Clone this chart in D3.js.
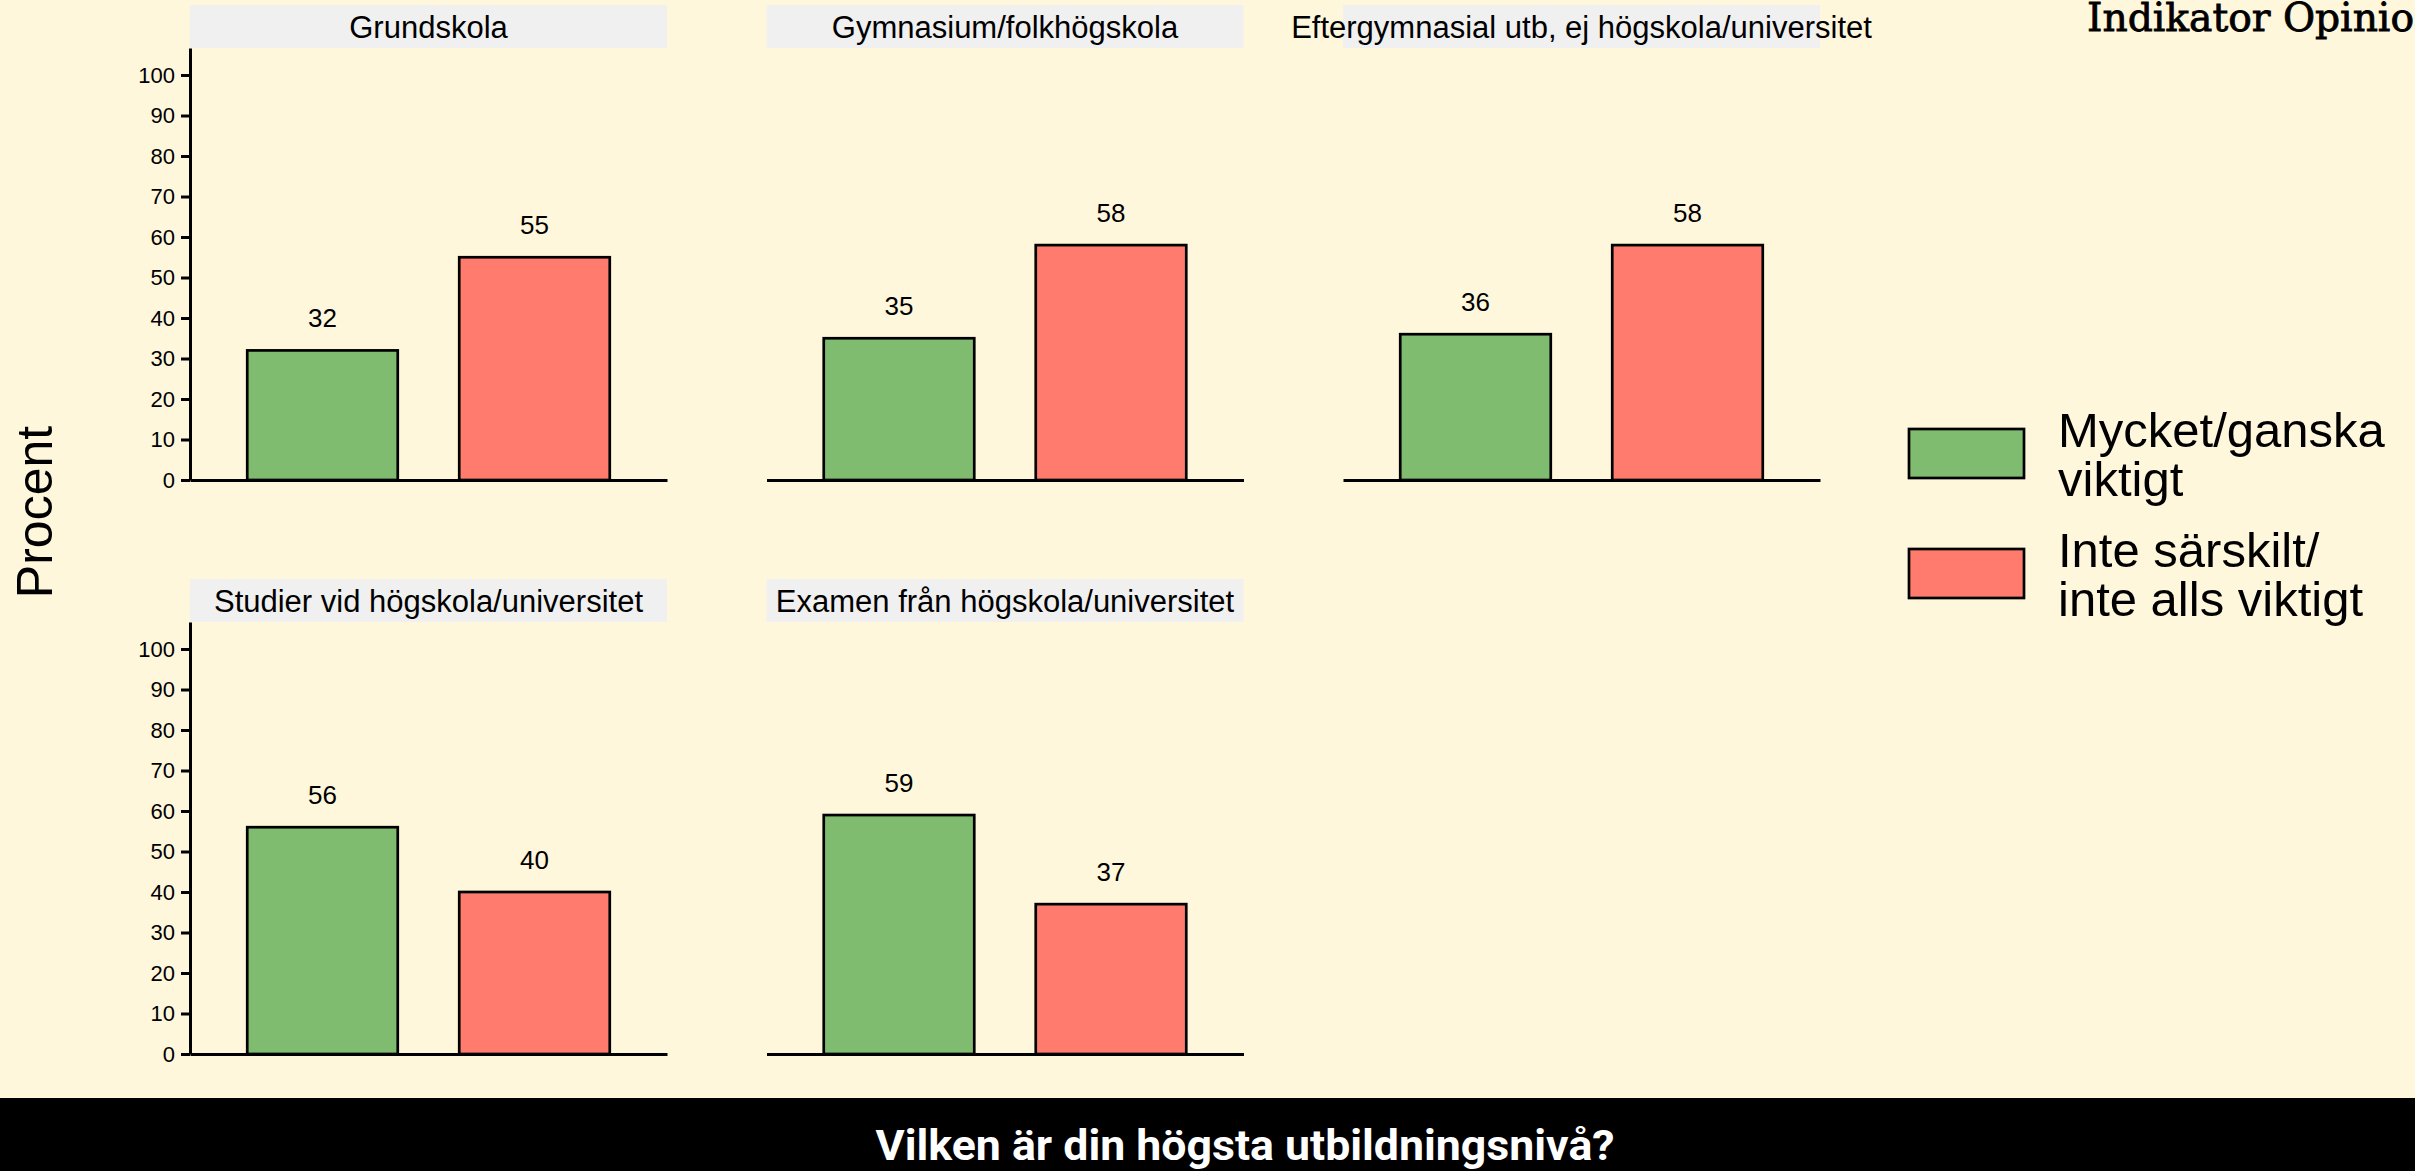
<!DOCTYPE html>
<html>
<head>
<meta charset="utf-8">
<script src="https://cdn.jsdelivr.net/npm/d3@7"></script>
<style>
	html, body { margin: 0; padding: 0; background: #FFF7DC; }
	svg { display: block; }
	text { font-family: 'Liberation Sans', Arial, sans-serif; }
</style>
</head>
<body>
<script>
'use strict';

// Data
const panelNames = [
	'Grundskola',
	'Gymnasium/folkhögskola',
	'Eftergymnasial utb, ej högskola/universitet',
	'Studier vid högskola/universitet',
	'Examen från högskola/universitet'
];
const seriesNames = ['Mycket/ganska viktigt', 'Inte särskilt/inte alls viktigt'];
const legendLines = [['Mycket/ganska', 'viktigt'], ['Inte särskilt/', 'inte alls viktigt']];
const viktigt = [32, 35, 36, 56, 59];
const inteViktigt = [55, 58, 58, 40, 37];
const yTicks = [0, 10, 20, 30, 40, 50, 60, 70, 80, 90, 100];
const seriesColors = ['#7FBC6F', '#FF7B6E'];

const WIDTH = 2415, HEIGHT = 1171;
const LAYOUT = {
	'colLeft' : [190, 766.5, 1343],
	'rowTop'  : [48, 622],
	'panelW'  : 477,
	'panelH'  : 432,
	'stripH'  : 43
};

let svg = d3.select('body').append('svg')
	.attr('width', WIDTH)
	.attr('height', HEIGHT);

svg.append('rect').attr('width', WIDTH).attr('height', HEIGHT).attr('fill', '#FFF7DC');

let x = d3.scaleBand()
	.domain(seriesNames)
	.range([0, LAYOUT.panelW])
	.paddingInner(0.29)
	.paddingOuter(0.27);
let y = d3.scaleLinear()
	.domain([0, 106.67])
	.range([LAYOUT.panelH, 0]);
let color = d3.scaleOrdinal().domain(seriesNames).range(seriesColors);

panelNames.forEach((name, i) => {
	let col = i % 3, row = Math.floor(i / 3);
	let values = [viktigt[i], inteViktigt[i]];
	let g = svg.append('g')
		.attr('transform', 'translate(' + LAYOUT.colLeft[col] + ', ' + LAYOUT.rowTop[row] + ')');

	// strip
	g.append('rect')
		.attr('x', 0).attr('y', -LAYOUT.stripH)
		.attr('width', LAYOUT.panelW).attr('height', LAYOUT.stripH)
		.attr('fill', '#F0F0F0');
	g.append('text')
		.attr('x', LAYOUT.panelW / 2).attr('y', -LAYOUT.stripH / 2)
		.attr('dy', '0.36em')
		.attr('text-anchor', 'middle')
		.style('font-size', '31px')
		.text(name);

	// bars
	g.selectAll('.bar')
		.data(values)
		.enter()
		.append('rect')
		.attr('class', 'bar')
		.attr('x', (d, j) => x(seriesNames[j]))
		.attr('y', (d) => y(d))
		.attr('width', x.bandwidth())
		.attr('height', (d) => y(0) - y(d))
		.attr('fill', (d, j) => color(seriesNames[j]))
		.attr('stroke', '#000')
		.attr('stroke-width', 2.7);

	g.selectAll('.lbl')
		.data(values)
		.enter()
		.append('text')
		.attr('class', 'lbl')
		.attr('x', (d, j) => x(seriesNames[j]) + x.bandwidth() / 2)
		.attr('y', (d) => y(d) - 23)
		.attr('text-anchor', 'middle')
		.style('font-size', '26px')
		.text((d) => d);

	// x axis line only
	let xAxis = g.append('g')
		.attr('transform', 'translate(0, ' + LAYOUT.panelH + ')')
		.call(d3.axisBottom(x).tickSize(0).tickFormat(''));
	xAxis.select('.domain').attr('stroke-width', 3);

	// y axis only on the first column
	if (col === 0) {
		let yAxis = g.append('g')
			.call(d3.axisLeft(y).tickValues(yTicks).tickSize(9).tickSizeOuter(0).tickPadding(6));
		yAxis.select('.domain').attr('stroke-width', 3);
		yAxis.selectAll('.tick line').attr('stroke-width', 3);
		yAxis.selectAll('.tick text')
			.style('font-size', '22px')
			.style('font-family', "'Liberation Sans', Arial, sans-serif")
			.attr('fill', '#000');
	}
});

// y axis title
svg.append('text')
	.attr('transform', 'translate(52, 512) rotate(-90)')
	.attr('text-anchor', 'middle')
	.style('font-size', '50px')
	.text('Procent');

// legend
let legend = svg.append('g').attr('transform', 'translate(1909, 429)');
seriesNames.forEach((s, i) => {
	let item = legend.append('g').attr('transform', 'translate(0, ' + i * 120 + ')');
	item.append('rect')
		.attr('width', 115).attr('height', 49)
		.attr('fill', color(s))
		.attr('stroke', '#000')
		.attr('stroke-width', 2.7);
	item.selectAll('text')
		.data(legendLines[i])
		.enter()
		.append('text')
		.attr('x', 149)
		.attr('y', (d, k) => 18 + k * 49)
		.style('font-size', '49px')
		.text((d) => d);
});

// brand
svg.append('text')
	.attr('x', 2087).attr('y', 31)
	.style('font-family', "'DejaVu Serif', serif")
	.style('font-size', '39px')
	.attr('stroke', '#000')
	.attr('stroke-width', 0.8)
	.attr('textLength', 327)
	.attr('lengthAdjust', 'spacingAndGlyphs')
	.text('Indikator Opinio');

// footer
svg.append('rect')
	.attr('x', 0).attr('y', 1098)
	.attr('width', WIDTH).attr('height', HEIGHT - 1098)
	.attr('fill', '#000');
svg.append('text')
	.attr('x', 1245).attr('y', 1160)
	.attr('text-anchor', 'middle')
	.attr('fill', '#fff')
	.style('font-family', "Roboto, 'Liberation Sans', sans-serif")
	.style('font-weight', 700)
	.style('font-size', '43px')
	.attr('textLength', 739)
	.attr('lengthAdjust', 'spacingAndGlyphs')
	.text('Vilken är din högsta utbildningsnivå?');
</script>
</body>
</html>
